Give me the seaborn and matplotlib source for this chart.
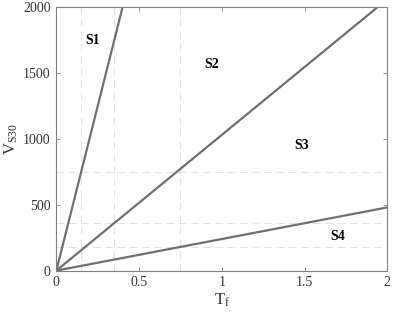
import numpy as np
import pandas as pd
import matplotlib
matplotlib.use("Agg")
import matplotlib.pyplot as plt
import seaborn as sns

# Data
line1_x = [0.0, 0.40]
line1_y = [0.0, 2000.0]
line2_x = [0.0, 1.94]
line2_y = [0.0, 2000.0]
line3_x = [0.0, 2.0]
line3_y = [0.0, 480.0]
vgrid_x = [0.15, 0.35, 0.75]
hgrid_y = [180, 360, 750]
region_labels = ["S1", "S2", "S3", "S4"]
region_x = [0.222, 0.936, 1.48, 1.698]
region_y = [1748, 1562, 952, 256]
xticks = [0, 0.5, 1, 1.5, 2]
xticklabels = ["0", "0.5", "1", "1.5", "2"]
yticks = [0, 500, 1000, 1500, 2000]
yticklabels = ["0", "500", "1000", "1500", "2000"]

sns.set_theme(style="white")
plt.rcParams["font.family"] = ["Liberation Serif", "DejaVu Serif"]
plt.rcParams["mathtext.fontset"] = "custom"
plt.rcParams["mathtext.rm"] = "Liberation Serif"
plt.rcParams["mathtext.it"] = "Liberation Serif"

fig = plt.figure(figsize=(3.94, 3.18), dpi=100)
ax = fig.add_axes([0.143, 0.149, 0.840, 0.828])

for xv in vgrid_x:
    ax.axvline(xv, color="#e2e2e2", lw=0.8, ls=(0, (7, 4)), zorder=0)
for yv in hgrid_y:
    ax.axhline(yv, color="#e2e2e2", lw=0.8, ls=(0, (7, 4)), zorder=0)

line_color = "#6f6f6f"
for xs, ys in [(line1_x, line1_y), (line2_x, line2_y), (line3_x, line3_y)]:
    df = pd.DataFrame({"x": xs, "y": ys})
    sns.lineplot(data=df, x="x", y="y", ax=ax, color=line_color, lw=1.6,
                 sort=False, estimator=None)

for lab, xv, yv in zip(region_labels, region_x, region_y):
    ax.text(xv, yv, lab, ha="center", va="center", fontsize=10,
            fontweight="bold", color="black")

ax.set_xlim(0, 2)
ax.set_ylim(0, 2000)
ax.set_xticks(xticks)
ax.set_xticklabels(xticklabels)
ax.set_yticks(yticks)
ax.set_yticklabels(yticklabels)
ax.tick_params(direction="in", length=3, width=0.6, colors="#808080",
               labelcolor="#333333", labelsize=10, top=True, right=True,
               bottom=True, left=True, pad=4)
for s in ax.spines.values():
    s.set_color("#808080")
    s.set_linewidth(0.8)

ax.set_xlabel(r"$\mathrm{T_f}$", fontsize=12, color="#333333", labelpad=2)
ax.set_ylabel(r"$\mathrm{V_{S30}}$", fontsize=12, color="#333333", labelpad=2)

fig.savefig("out.png", dpi=100)
